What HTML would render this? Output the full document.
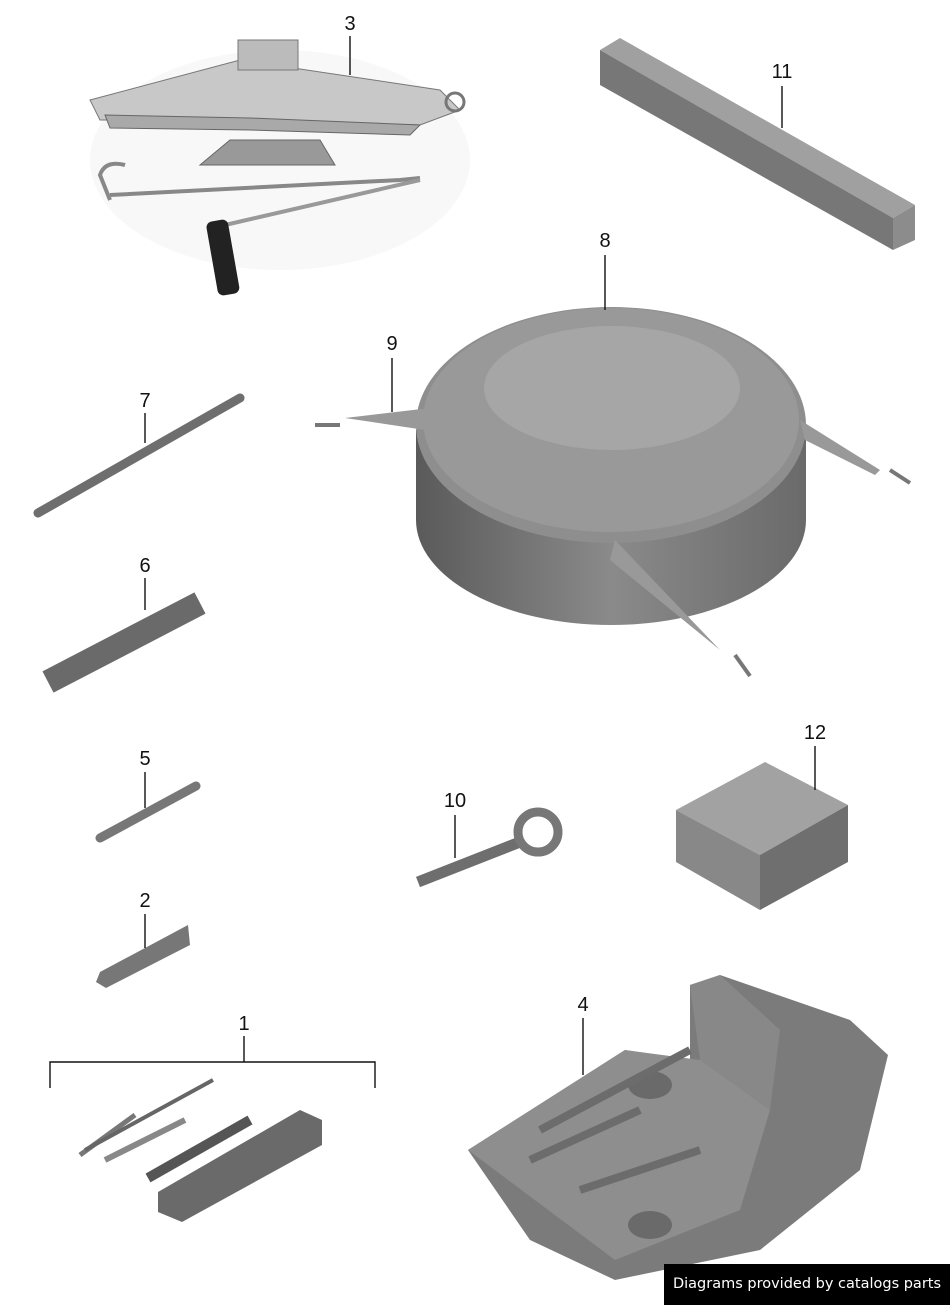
<!DOCTYPE html>
<html><head><meta charset="utf-8"><style>
html,body{margin:0;padding:0;background:#fff;width:950px;height:1305px;overflow:hidden}
svg{display:block}
.l{font-family:"Liberation Sans",sans-serif;font-size:20px;fill:#111;text-anchor:middle}
.ln{stroke:#111;stroke-width:1.4;fill:none}
#cap{position:absolute;left:664px;top:1264px;width:286px;height:41px;background:#000;color:#fff;font-family:"DejaVu Sans","Liberation Sans",sans-serif;font-size:14.5px;line-height:41px;text-align:center}
</style></head><body>
<svg width="950" height="1305" viewBox="0 0 950 1305" xmlns="http://www.w3.org/2000/svg">
<defs>
<linearGradient id="g2" x1="0" y1="0" x2="1" y2="0"><stop offset="0" stop-color="#5a5a5a"/><stop offset=".5" stop-color="#8a8a8a"/><stop offset="1" stop-color="#6a6a6a"/></linearGradient>
</defs>
<!-- jack 3 -->
<ellipse cx="280" cy="160" rx="190" ry="110" fill="#f8f8f8"/>
<polygon points="90,100 240,60 440,90 460,110 420,125 250,120 100,120" fill="#c8c8c8" stroke="#777"/>
<polygon points="105,115 250,118 420,125 410,135 250,130 110,128" fill="#a9a9a9" stroke="#666"/>
<rect x="238" y="40" width="60" height="30" fill="#bbb" stroke="#777"/>
<polygon points="200,165 230,140 320,140 335,165" fill="#999" stroke="#666"/>
<circle cx="455" cy="102" r="9" fill="none" stroke="#777" stroke-width="3"/>
<path d="M110,200 L100,175 Q105,160 125,165 M110,195 L400,180 L420,178" stroke="#888" stroke-width="4" fill="none"/>
<path d="M225,225 L420,180" stroke="#999" stroke-width="4"/>
<rect x="212" y="220" width="22" height="75" rx="6" fill="#222" transform="rotate(-10 223 258)"/>
<text class="l" x="350" y="30">3</text><line class="ln" x1="350" y1="36" x2="350" y2="75"/>
<!-- 11 bar -->
<polygon points="600,50 620,38 915,205 893,218" fill="#a0a0a0"/>
<polygon points="600,50 600,85 893,250 893,218" fill="#777"/>
<polygon points="893,218 915,205 915,240 893,250" fill="#8c8c8c"/>
<text class="l" x="782" y="78">11</text><line class="ln" x1="782" y1="86" x2="782" y2="128"/>
<!-- wheel cover 8 -->
<path d="M416,430 L416,520 A195,105 0 0 0 806,520 L806,430 Z" fill="url(#g2)"/>
<ellipse cx="611" cy="425" rx="195" ry="118" fill="#8e8e8e"/>
<ellipse cx="611" cy="420" rx="188" ry="112" fill="#999"/>
<ellipse cx="612" cy="388" rx="128" ry="62" fill="#a6a6a6"/>
<polygon points="345,418 430,408 425,430" fill="#999"/>
<polygon points="800,420 880,470 875,475 805,440" fill="#999"/>
<polygon points="615,540 720,650 610,560" fill="#999"/>
<line x1="315" y1="425" x2="340" y2="425" stroke="#777" stroke-width="4"/>
<line x1="890" y1="470" x2="910" y2="483" stroke="#777" stroke-width="4"/>
<line x1="735" y1="655" x2="750" y2="676" stroke="#777" stroke-width="4"/>
<text class="l" x="605" y="247">8</text><line class="ln" x1="605" y1="255" x2="605" y2="310"/>
<text class="l" x="392" y="350">9</text><line class="ln" x1="392" y1="358" x2="392" y2="412"/>
<!-- 7 rod -->
<line x1="38" y1="513" x2="240" y2="398" stroke="#6e6e6e" stroke-width="9" stroke-linecap="round"/>
<text class="l" x="145" y="407">7</text><line class="ln" x1="145" y1="413" x2="145" y2="443"/>
<!-- 6 tube -->
<line x1="48" y1="682" x2="200" y2="603" stroke="#6a6a6a" stroke-width="24"/>
<text class="l" x="145" y="572">6</text><line class="ln" x1="145" y1="578" x2="145" y2="610"/>
<!-- 5 pin -->
<line x1="100" y1="838" x2="196" y2="786" stroke="#777" stroke-width="9" stroke-linecap="round"/>
<text class="l" x="145" y="765">5</text><line class="ln" x1="145" y1="772" x2="145" y2="808"/>
<!-- 2 -->
<polygon points="100,972 188,925 190,945 106,988 96,982" fill="#777"/>
<text class="l" x="145" y="907">2</text><line class="ln" x1="145" y1="914" x2="145" y2="948"/>
<!-- 10 tow eye -->
<line x1="418" y1="882" x2="520" y2="842" stroke="#6e6e6e" stroke-width="11"/>
<circle cx="538" cy="832" r="20" fill="none" stroke="#777" stroke-width="9"/>
<text class="l" x="455" y="807">10</text><line class="ln" x1="455" y1="815" x2="455" y2="858"/>
<!-- 12 box -->
<polygon points="676,810 765,762 848,805 760,855" fill="#a2a2a2"/>
<polygon points="676,810 760,855 760,910 676,862" fill="#888"/>
<polygon points="760,855 848,805 848,862 760,910" fill="#6f6f6f"/>
<text class="l" x="815" y="739">12</text><line class="ln" x1="815" y1="746" x2="815" y2="790"/>
<!-- 1 -->
<text class="l" x="244" y="1030">1</text>
<path class="ln" d="M244,1036 L244,1062 M50,1088 L50,1062 L375,1062 L375,1088"/>
<line x1="80" y1="1155" x2="135" y2="1115" stroke="#777" stroke-width="5"/>
<line x1="85" y1="1150" x2="213" y2="1080" stroke="#666" stroke-width="4"/>
<line x1="105" y1="1160" x2="185" y2="1120" stroke="#888" stroke-width="6"/>
<line x1="148" y1="1178" x2="250" y2="1120" stroke="#555" stroke-width="10"/>
<polygon points="158,1192 300,1110 322,1120 322,1145 182,1222 158,1212" fill="#6a6a6a"/>
<!-- 4 tray -->
<path d="M468,1150 L625,1050 L690,1060 L690,985 L720,975 L850,1020 L888,1055 L860,1170 L760,1250 L615,1280 L530,1240 Z" fill="#7b7b7b"/>
<path d="M468,1150 L625,1050 L700,1060 L770,1110 L740,1210 L615,1260 Z" fill="#8e8e8e"/>
<path d="M690,985 L720,975 L780,1030 L770,1110 L700,1060 Z" fill="#888"/>
<ellipse cx="650" cy="1085" rx="22" ry="14" fill="#6a6a6a"/>
<ellipse cx="650" cy="1225" rx="22" ry="14" fill="#6a6a6a"/>
<path d="M540,1130 L690,1050 M530,1160 L640,1110 M580,1190 L700,1150" stroke="#6c6c6c" stroke-width="8"/>
<text class="l" x="583" y="1011">4</text><line class="ln" x1="583" y1="1018" x2="583" y2="1075"/>
</svg>
<div id="cap">Diagrams provided by catalogs parts</div>
</body></html>
